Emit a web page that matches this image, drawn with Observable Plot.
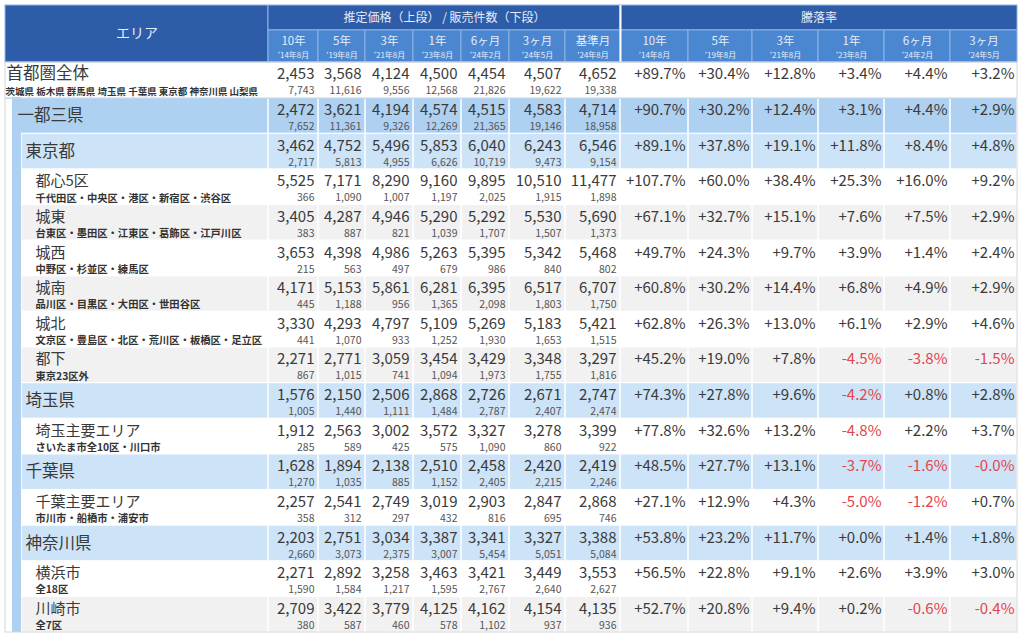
<!DOCTYPE html>
<html><head><meta charset="utf-8">
<script src="https://cdn.jsdelivr.net/npm/d3@7"></script>
<script src="https://cdn.jsdelivr.net/npm/@observablehq/plot@0.6"></script>
<style>body{margin:0;background:#fff;}</style>
</head><body><div id="chart"></div>
<script>
// ---------- data ----------
const areas = ["首都圏全体","一都三県","東京都","都心5区","城東","城西","城南","城北","都下","埼玉県","埼玉主要エリア","千葉県","千葉主要エリア","神奈川県","横浜市","川崎市"];
const areaNotes = ["茨城県 栃木県 群馬県 埼玉県 千葉県 東京都 神奈川県 山梨県","","","千代田区・中央区・港区・新宿区・渋谷区","台東区・墨田区・江東区・葛飾区・江戸川区","中野区・杉並区・練馬区","品川区・目黒区・大田区・世田谷区","文京区・豊島区・北区・荒川区・板橋区・足立区","東京23区外","","さいたま市全10区・川口市","","市川市・船橋市・浦安市","","全18区","全7区"];
const areaLevels = [0,1,2,3,3,3,3,3,3,2,3,2,3,2,3,3];

const periods = ["10年","5年","3年","1年","6ヶ月","3ヶ月","基準月"];
const periodDates = ["'14年8月","'19年8月","'21年8月","'23年8月","'24年2月","'24年5月","'24年8月"];
const groupPrice = "推定価格（上段） / 販売件数（下段）";
const groupChange = "騰落率";
const areaHeader = "エリア";

const prices = [
  [2453,3568,4124,4500,4454,4507,4652],
  [2472,3621,4194,4574,4515,4583,4714],
  [3462,4752,5496,5853,6040,6243,6546],
  [5525,7171,8290,9160,9895,10510,11477],
  [3405,4287,4946,5290,5292,5530,5690],
  [3653,4398,4986,5263,5395,5342,5468],
  [4171,5153,5861,6281,6395,6517,6707],
  [3330,4293,4797,5109,5269,5183,5421],
  [2271,2771,3059,3454,3429,3348,3297],
  [1576,2150,2506,2868,2726,2671,2747],
  [1912,2563,3002,3572,3327,3278,3399],
  [1628,1894,2138,2510,2458,2420,2419],
  [2257,2541,2749,3019,2903,2847,2868],
  [2203,2751,3034,3387,3341,3327,3388],
  [2271,2892,3258,3463,3421,3449,3553],
  [2709,3422,3779,4125,4162,4154,4135]
];
const counts = [
  [7743,11616,9556,12568,21826,19622,19338],
  [7652,11361,9326,12269,21365,19146,18958],
  [2717,5813,4955,6626,10719,9473,9154],
  [366,1090,1007,1197,2025,1915,1898],
  [383,887,821,1039,1707,1507,1373],
  [215,563,497,679,986,840,802],
  [445,1188,956,1365,2098,1803,1750],
  [441,1070,933,1252,1930,1653,1515],
  [867,1015,741,1094,1973,1755,1816],
  [1005,1440,1111,1484,2787,2407,2474],
  [285,589,425,575,1090,860,922],
  [1270,1035,885,1152,2405,2215,2246],
  [358,312,297,432,816,695,746],
  [2660,3073,2375,3007,5454,5051,5084],
  [1590,1584,1217,1595,2767,2640,2627],
  [380,587,460,578,1102,937,936]
];
const changes = [
  [89.7,30.4,12.8,3.4,4.4,3.2],
  [90.7,30.2,12.4,3.1,4.4,2.9],
  [89.1,37.8,19.1,11.8,8.4,4.8],
  [107.7,60.0,38.4,25.3,16.0,9.2],
  [67.1,32.7,15.1,7.6,7.5,2.9],
  [49.7,24.3,9.7,3.9,1.4,2.4],
  [60.8,30.2,14.4,6.8,4.9,2.9],
  [62.8,26.3,13.0,6.1,2.9,4.6],
  [45.2,19.0,7.8,-4.5,-3.8,-1.5],
  [74.3,27.8,9.6,-4.2,0.8,2.8],
  [77.8,32.6,13.2,-4.8,2.2,3.7],
  [48.5,27.7,13.1,-3.7,-1.6,-0.0],
  [27.1,12.9,4.3,-5.0,-1.2,0.7],
  [53.8,23.2,11.7,0.0,1.4,1.8],
  [56.5,22.8,9.1,2.6,3.9,3.0],
  [52.7,20.8,9.4,0.2,-0.6,-0.4]
];

// ---------- layout (not data) ----------
const colW = [263,50,47,48,48,48,56,55,68,64,66,66,66,67];
const colX0 = [], colX1 = [];
colW.reduce((acc, w, i) => { colX0[i] = acc; colX1[i] = acc + w; return acc + w; }, 0);
const W = d3.sum(colW);
const H1 = 0.7, H2 = 0.9, HEAD = H1 + H2;
const NROW = areas.length;
const FONT = "'Noto Sans CJK JP', 'Noto Sans', sans-serif";
const C = {dark:"#2d5ca8", mid:"#4a87d0", lvl1:"#aed0f1", lvl2:"#cde3f7", gray:"#f1f1f1", white:"#ffffff", text:"#3a3a3a", sub:"#555555", red:"#e5434e", head:"#e4edf9"};
const indent = [0, 7, 16, 16];
const labelX = [1, 12, 20, 30];

// rows
let parity = 0;
const rows = areas.map((a, i) => {
  const lv = areaLevels[i];
  let fill;
  if (lv === 0) fill = C.white;
  else if (lv === 1) fill = C.lvl1;
  else if (lv === 2) fill = C.lvl2;
  else { fill = parity % 2 ? C.gray : C.white; }
  if (lv < 3) parity = 0; else parity++;
  return {area: a, note: areaNotes[i], level: lv, top: HEAD + i, fill, i};
});

// cell rects
const cells = [];
rows.forEach(r => {
  cells.push({x1: indent[r.level], x2: colX1[0], y1: r.top, y2: r.top + 1, fill: r.fill});
  for (let c = 1; c < colW.length; c++) cells.push({x1: colX0[c], x2: colX1[c], y1: r.top, y2: r.top + 1, fill: r.fill});
});
const strip = [{x1: indent[1], x2: indent[2], y1: HEAD + 1, y2: HEAD + NROW, fill: C.lvl1}];

// header rects
const headCells = [
  {x1: 0, x2: colX1[0], y1: 0, y2: HEAD, fill: C.dark},
  {x1: colX0[1], x2: colX1[7], y1: 0, y2: H1, fill: C.dark},
  {x1: colX0[8], x2: colX1[13], y1: 0, y2: H1, fill: C.dark}
];
for (let c = 1; c < colW.length; c++) headCells.push({x1: colX0[c], x2: colX1[c], y1: H1, y2: HEAD, fill: C.mid});

const headTexts = [
  {x: colX1[0] / 2, y: HEAD / 2, t: areaHeader, s: 14},
  {x: (colX0[1] + colX1[7]) / 2, y: H1 / 2, t: groupPrice, s: 12},
  {x: (colX0[8] + colX1[13]) / 2, y: H1 / 2, t: groupChange, s: 12}
];
const subHead = [], subDate = [];
for (let c = 1; c < colW.length; c++) {
  const k = c <= 7 ? c - 1 : c - 8;
  subHead.push({x: (colX0[c] + colX1[c]) / 2, y: H1 + 0.3, t: periods[k]});
  subDate.push({x: (colX0[c] + colX1[c]) / 2, y: H1 + 0.7, t: periodDates[k]});
}

// value texts
const fmt = d3.format(",");
const mainVals = [], cntVals = [], pctVals = [];
rows.forEach((r, i) => {
  prices[i].forEach((v, k) => mainVals.push({x: colX1[k + 1], y: r.top + 0.34, t: fmt(v)}));
  counts[i].forEach((v, k) => cntVals.push({x: colX1[k + 1], y: r.top + 0.8, t: fmt(v)}));
  changes[i].forEach((v, k) => {
    const neg = v < 0 || Object.is(v, -0);
    pctVals.push({x: colX1[k + 8], y: r.top + 0.34, t: (neg ? "-" : "+") + Math.abs(v).toFixed(1) + "%", neg});
  });
});

const labels = rows.map(r => ({
  x: labelX[r.level],
  y: r.top + (r.level === 0 ? 0.31 : r.level === 3 ? 0.34 : 0.5),
  t: r.area,
  s: r.level === 3 ? 15 : 16.5
}));
const notes = rows.filter(r => r.note).map(r => ({
  x: r.level === 0 ? 0 : labelX[r.level],
  y: r.top + (r.level === 0 ? 0.83 : 0.81),
  t: r.note,
  s: r.level === 0 ? 9.5 : 10.3
}));

const chart = Plot.plot({
  width: 1024, height: 635,
  margin: 0,
  x: {domain: [0, W], range: [5, 1017], axis: null},
  y: {domain: [0, HEAD + NROW], range: [5, 632], axis: null},
  style: {fontFamily: FONT, background: "#fff"},
  marks: [
    Plot.rect(headCells, {x1: "x1", x2: "x2", y1: "y1", y2: "y2", fill: "fill", stroke: "#8fb4e3", strokeWidth: 1}),
    Plot.ruleX([colX0[8]], {y1: 0, y2: HEAD, stroke: "#ffffff", strokeWidth: 2}),
    Plot.rect(cells, {x1: "x1", x2: "x2", y1: "y1", y2: "y2", fill: "fill", insetLeft: 0.75, insetRight: 0.75, insetTop: 0.6, insetBottom: 0.6}),
    Plot.rect(strip, {x1: "x1", x2: "x2", y1: "y1", y2: "y2", fill: "fill", insetTop: -0.6}),
    Plot.rect([{x1: 0, x2: W, y1: HEAD, y2: HEAD + NROW}], {x1: "x1", x2: "x2", y1: "y1", y2: "y2", fill: "none", stroke: "#d6d6d6", strokeWidth: 1}),
    Plot.ruleY([HEAD + 1], {x1: 0, x2: W, stroke: "#bcd7f0", strokeWidth: 1.5}),
    Plot.text(headTexts, {x: "x", y: "y", text: "t", fontSize: d => d.s, fill: C.head, fontFamily: FONT}),
    Plot.text(subHead, {x: "x", y: "y", text: "t", fontSize: 11.5, fill: C.head, fontFamily: FONT}),
    Plot.text(subDate, {x: "x", y: "y", text: "t", fontSize: 8, fill: C.head, fontFamily: FONT}),
    Plot.text(labels, {x: "x", y: "y", text: "t", textAnchor: "start", fontSize: d => d.s, fill: C.text, fontFamily: FONT}),
    Plot.text(notes, {x: "x", y: "y", text: "t", textAnchor: "start", fontSize: d => d.s, fontWeight: "bold", fill: "#333", fontFamily: FONT}),
    Plot.text(mainVals, {x: "x", y: "y", text: "t", textAnchor: "end", dx: -4, fontSize: 15, fill: C.text, fontFamily: FONT}),
    Plot.text(cntVals, {x: "x", y: "y", text: "t", textAnchor: "end", dx: -4, fontSize: 10.5, fill: C.sub, fontFamily: FONT}),
    Plot.text(pctVals, {x: "x", y: "y", text: "t", textAnchor: "end", dx: -3, fontSize: 15, fill: d => d.neg ? C.red : C.text, fontFamily: FONT})
  ]
});
document.getElementById("chart").appendChild(chart);
</script>
</body></html>
